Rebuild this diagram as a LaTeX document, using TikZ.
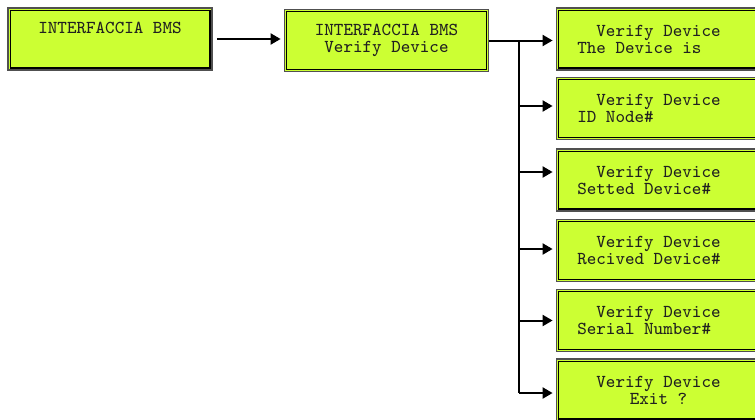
\documentclass[tikz,border=0pt]{standalone}
\usepackage{fontspec}
\usepackage{tikz}
\usetikzlibrary{arrows.meta, positioning, calc}
\definecolor{lcdgreen}{HTML}{CCFF33}
\definecolor{lcdedge}{HTML}{505050}
\definecolor{lcdtext}{HTML}{202020}
\newcommand{\lcdframe}[1]
{
	\draw[black, line width = 0.6pt] ([shift={(1.5pt,-1.5pt)}]#1.north west) rectangle ([shift={(-1.5pt,1.5pt)}]#1.south east)
}

\begin{document}
\begin{tikzpicture}[x = 0.5pt, y = -0.5pt,
	lcd/.style = {draw = lcdedge, line width = 0.9pt, fill = lcdgreen, inner sep = 0pt,
		minimum width = 102pt, minimum height = 31pt, align = center, text = lcdtext,
		font = {\ttfamily\fontsize{9.1}{8.5}\selectfont}},
	link/.style = {line width = 1pt, -{Triangle[length = 5pt, width = 5.5pt]}, shorten > = 1.5pt},
	wire/.style = {line width = 1pt}]

	\useasboundingbox (0,0) rectangle (755,419);

	\node[lcd] (bms) at (110,39) {INTERFACCIA BMS\\\strut};
	\node[lcd] (vdev) at (386.5,40.5) {INTERFACCIA BMS\\Verify Device};

	\node[lcd] (vA) at (658.5,39) {Verify Device\\The Device is\phantom{xxxx}};
	\node[lcd] (vB) at (658.5,108.5) {Verify Device\\ID Node\#\phantom{xxxxxxxxx}};
	\node[lcd] (vC) at (658.5,180) {Verify Device\\Setted Device\#\phantom{xxx}};
	\node[lcd] (vD) at (658.5,250.5) {Verify Device\\Recived Device\#\phantom{xx}};
	\node[lcd] (vE) at (658.5,320.5) {Verify Device\\Serial Number\#\phantom{xxx}};
	\node[lcd] (vF) at (658.5,390) {Verify Device\\Exit ?};

	\lcdframe{bms};
	\lcdframe{vdev};
	\lcdframe{vA};
	\lcdframe{vB};
	\lcdframe{vC};
	\lcdframe{vD};
	\lcdframe{vE};
	\lcdframe{vF};

	% branch points on the left side of the menu column
	\coordinate (split) at ([xshift = 15pt]vdev.east);
	\coordinate (inB) at ([yshift = 1.25pt]vB.west);
	\coordinate (inC) at ([yshift = 4pt]vC.west);
	\coordinate (inD) at ([yshift = 0.75pt]vD.west);
	\coordinate (inE) at (vE.west);
	\coordinate (inF) at ([yshift = -1.5pt]vF.west);

	\draw[link, shorten < = 2pt] (bms.east) -- (bms.east -| vdev.west);
	\draw[link] (vdev.east) -- (vdev.east -| vA.west);
	\draw[wire] (split) -- (split |- inF);
	\draw[link] (split |- inB) -- (inB);
	\draw[link] (split |- inC) -- (inC);
	\draw[link] (split |- inD) -- (inD);
	\draw[link] (split |- inE) -- (inE);
	\draw[link] (split |- inF) -- (inF);
\end{tikzpicture}
\end{document}
